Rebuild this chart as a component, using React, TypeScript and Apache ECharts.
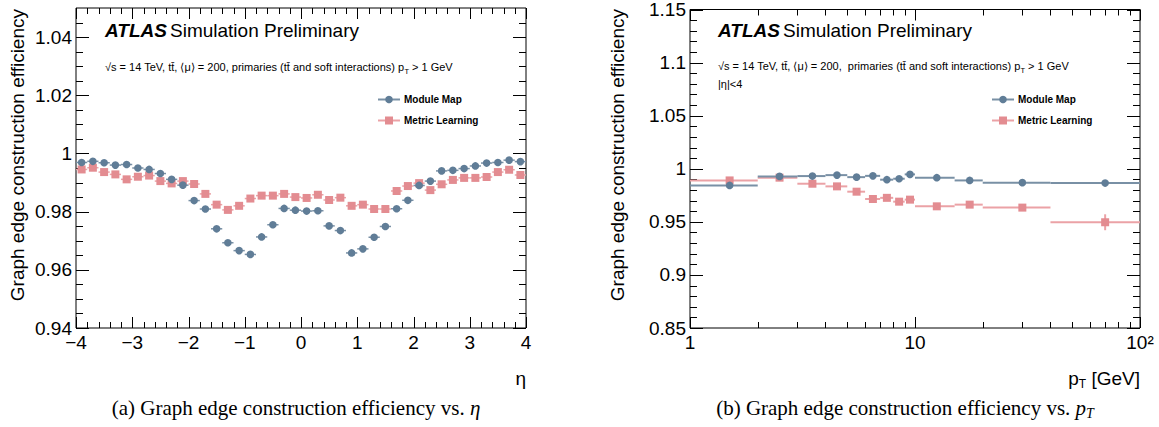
import React, { useEffect, useRef } from "react";
import * as echarts from "echarts";

// ---------- data: efficiency vs eta ----------
const etaCenters = [
  -3.9, -3.7, -3.5, -3.3, -3.1, -2.9, -2.7, -2.5, -2.3, -2.1,
  -1.9, -1.7, -1.5, -1.3, -1.1, -0.9, -0.7, -0.5, -0.3, -0.1,
  0.1, 0.3, 0.5, 0.7, 0.9, 1.1, 1.3, 1.5, 1.7, 1.9,
  2.1, 2.3, 2.5, 2.7, 2.9, 3.1, 3.3, 3.5, 3.7, 3.9,
];
const etaHalfWidth = [0.1];
const etaModuleMap = [
  0.9969, 0.9973, 0.9968, 0.996, 0.9962, 0.995, 0.9945, 0.9931, 0.9911, 0.9891,
  0.9838, 0.9809, 0.9741, 0.9693, 0.9666, 0.9653, 0.9713, 0.9755, 0.9811, 0.9805,
  0.9802, 0.9803, 0.9751, 0.9735, 0.9658, 0.9672, 0.9712, 0.9749, 0.981, 0.9839,
  0.989, 0.9905, 0.994, 0.9942, 0.9948, 0.9957, 0.9967, 0.9969, 0.9977, 0.9972,
];
const etaMetricLearning = [
  0.9945, 0.9951, 0.9936, 0.9928, 0.9911, 0.992, 0.9924, 0.9905, 0.9897, 0.9905,
  0.9895, 0.9861, 0.9824, 0.9806, 0.982, 0.9845, 0.9855, 0.9855, 0.9861, 0.985,
  0.9847, 0.9858, 0.984, 0.9848, 0.982, 0.9824, 0.9809, 0.9809, 0.9871, 0.9888,
  0.9898, 0.9874, 0.9894, 0.9909, 0.9916, 0.9916, 0.9919, 0.9936, 0.9944, 0.9926,
];
const etaModuleMapErr = [0.0004];
const etaMetricLearningErr = [0.0005];

// ---------- data: efficiency vs pT ----------
const ptLow = [1, 2, 3, 4, 5, 6, 7, 8, 9, 10, 15, 20, 40];
const ptHigh = [2, 3, 4, 5, 6, 7, 8, 9, 10, 15, 20, 40, 100];
const ptCenters = [1.5, 2.5, 3.5, 4.5, 5.5, 6.5, 7.5, 8.5, 9.5, 12.5, 17.5, 30, 70];
const ptModuleMap = [0.9843, 0.9928, 0.9931, 0.994, 0.9921, 0.9933, 0.9897, 0.9906, 0.9947, 0.9916, 0.989, 0.9869, 0.9865];
const ptMetricLearning = [0.989, 0.9916, 0.9859, 0.9834, 0.9784, 0.9715, 0.9726, 0.969, 0.9709, 0.9646, 0.9662, 0.9634, 0.9496];
const ptModuleMapErr = [0.0008, 0.0008, 0.0008, 0.0008, 0.0008, 0.0008, 0.0008, 0.0008, 0.0008, 0.0008, 0.0008, 0.001, 0.0015];
const ptMetricLearningErr = [0.001, 0.001, 0.001, 0.001, 0.001, 0.001, 0.001, 0.0012, 0.0012, 0.0015, 0.0025, 0.002, 0.0075];

// ---------- axis ticks ----------
const etaMajorTicks = [-4, -3, -2, -1, 0, 1, 2, 3, 4];
const effLeftMajorTicks = [0.94, 0.96, 0.98, 1.0, 1.02, 1.04];
const ptMajorTicks = [1, 10, 100];
const ptMinorTicks = [2, 3, 4, 5, 6, 7, 8, 9, 20, 30, 40, 50, 60, 70, 80, 90];
const effRightMajorTicks = [0.85, 0.9, 0.95, 1.0, 1.05, 1.1, 1.15];

const SANS = "'Liberation Sans', Arial, Helvetica, sans-serif";
const SERIF = "'Liberation Serif', 'DejaVu Serif', serif";
const BLUE = "#607d97";
const BLUE_BAR = "#7990a5";
const RED = "#e38c91";
const RED_BAR = "#eba2a6";
const LABEL_SIZE = 19;

function buildTicks(
  xMajor: number[], xMinor: number[], yMajor: number[], yMinor: number[], xMin: number, yMin: number
) {
  const d: number[][] = [];
  xMajor.forEach((v) => d.push([v, yMin, 0]));
  xMinor.forEach((v) => d.push([v, yMin, 1]));
  yMajor.forEach((v) => d.push([xMin, v, 2]));
  yMinor.forEach((v) => d.push([xMin, v, 3]));
  return d;
}

function tickRenderer(xLen: [number, number], yLen: [number, number]) {
  return (params: any, api: any) => {
    const cs = params.coordSys;
    const kind = api.value(2);
    const p = api.coord([api.value(0), api.value(1)]);
    const top = cs.y, bottom = cs.y + cs.height, left = cs.x, right = cs.x + cs.width;
    const style = { stroke: "#000", lineWidth: 1 };
    if (kind < 2) {
      const len = kind === 0 ? xLen[0] : xLen[1];
      const x = Math.round(p[0]) + 0.5;
      return {
        type: "group",
        children: [
          { type: "line", shape: { x1: x, y1: bottom, x2: x, y2: bottom - len }, style },
          { type: "line", shape: { x1: x, y1: top, x2: x, y2: top + len }, style },
        ],
      };
    }
    const len = kind === 2 ? yLen[0] : yLen[1];
    const y = Math.round(p[1]) + 0.5;
    return {
      type: "group",
      children: [
        { type: "line", shape: { x1: left, y1: y, x2: left + len, y2: y }, style },
        { type: "line", shape: { x1: right, y1: y, x2: right - len, y2: y }, style },
      ],
    };
  };
}

function pointRenderer(
  lo: (i: number) => number, hi: (i: number) => number, err: (i: number) => number,
  shape: "circle" | "square", color: string, barColor: string, barWidth: number
) {
  return (params: any, api: any) => {
    const i = params.dataIndex;
    const x = api.value(0);
    const y = api.value(1);
    const c = api.coord([x, y]);
    const pl = api.coord([lo(i), y]);
    const pr = api.coord([hi(i), y]);
    const pt = api.coord([x, y + err(i)]);
    const pb = api.coord([x, y - err(i)]);
    const marker =
      shape === "circle"
        ? { type: "circle", shape: { cx: c[0], cy: c[1], r: 3.8 }, style: { fill: color } }
        : { type: "rect", shape: { x: c[0] - 4, y: c[1] - 4, width: 8, height: 8 }, style: { fill: color } };
    return {
      type: "group",
      children: [
        { type: "line", shape: { x1: pl[0], y1: c[1], x2: pr[0], y2: c[1] }, style: { stroke: barColor, lineWidth: barWidth } },
        { type: "line", shape: { x1: c[0], y1: pt[1], x2: c[0], y2: pb[1] }, style: { stroke: barColor, lineWidth: barWidth } },
        marker,
      ],
    };
  };
}

export default function App() {
  const ref = useRef<HTMLDivElement>(null);

  useEffect(() => {
    if (!ref.current) return;
    const chart = echarts.init(ref.current, undefined, { renderer: "svg" });

    const etaMinor: number[] = [];
    for (let i = -20; i <= 20; i++) if (i % 5 !== 0) etaMinor.push(i / 5);
    const effLeftMinor: number[] = [];
    for (let i = 189; i < 210; i++) if (i % 4 !== 0) effLeftMinor.push(Math.round(i * 5) / 1000);
    const effRightMinor: number[] = [];
    for (let i = 86; i < 115; i++) if (i % 5 !== 0) effRightMinor.push(i / 100);

    const leftTicks = buildTicks(etaMajorTicks, etaMinor, effLeftMajorTicks, effLeftMinor, -4, 0.94);
    const rightTicks = buildTicks(ptMajorTicks, ptMinorTicks, effRightMajorTicks, effRightMinor, 1, 0.85);

    const axisLabelBase = { color: "#000", fontSize: LABEL_SIZE, fontFamily: SANS };

    const subText = (x: number, y: number, parts: string) => ({
      type: "text",
      x,
      y,
      style: {
        text: parts,
        fontFamily: SANS,
        fontSize: 11,
        fill: "#000",
        verticalAlign: "middle",
        rich: {
          n: { fontSize: 11, fontFamily: SANS, lineHeight: 16, fill: "#000" },
          s: { fontSize: 7.5, fontFamily: SANS, lineHeight: 7, verticalAlign: "bottom", fill: "#000" },
        },
      },
    });

    const legend = (x: number, y: number) => [
      { type: "line", shape: { x1: x, y1: y, x2: x + 22, y2: y }, style: { stroke: BLUE_BAR, lineWidth: 2 } },
      { type: "circle", shape: { cx: x + 11, cy: y, r: 3.8 }, style: { fill: BLUE } },
      { type: "text", x: x + 26, y, style: { text: "Module Map", fontFamily: SANS, fontWeight: "bold", fontSize: 10, fill: "#000", verticalAlign: "middle" } },
      { type: "line", shape: { x1: x, y1: y + 21, x2: x + 22, y2: y + 21 }, style: { stroke: RED_BAR, lineWidth: 2 } },
      { type: "rect", shape: { x: x + 7, y: y + 17, width: 8, height: 8 }, style: { fill: RED } },
      { type: "text", x: x + 26, y: y + 21, style: { text: "Metric Learning", fontFamily: SANS, fontWeight: "bold", fontSize: 10, fill: "#000", verticalAlign: "middle" } },
    ];

    const atlas = (x: number, y: number) => [
      { type: "text", x, y, style: { text: "ATLAS", fontFamily: SANS, fontSize: 19, fontWeight: "bold", fontStyle: "italic", fill: "#000", verticalAlign: "middle" } },
      { type: "text", x: x + 65, y, style: { text: "Simulation Preliminary", fontFamily: SANS, fontSize: 19, fill: "#000", verticalAlign: "middle" } },
    ];

    const yTitle = (x: number) => ({
      type: "text",
      x,
      y: 9,
      rotation: Math.PI / 2,
      style: { text: "Graph edge construction efficiency", fontFamily: SANS, fontSize: LABEL_SIZE, fill: "#000", align: "right", verticalAlign: "middle" },
    });

    const option: any = {
      animation: false,
      backgroundColor: "#fff",
      grid: [
        { left: 76, top: 8, width: 450, height: 320, show: true, borderColor: "#000", borderWidth: 1, backgroundColor: "transparent" },
        { left: 690, top: 8, width: 450, height: 320, show: true, borderColor: "#000", borderWidth: 1, backgroundColor: "transparent" },
      ],
      xAxis: [
        {
          gridIndex: 0, type: "value", min: -4, max: 4, interval: 1,
          axisLine: { show: false }, axisTick: { show: false }, splitLine: { show: false },
          axisLabel: { ...axisLabelBase, margin: 5, formatter: (v: number) => (v < 0 ? "\u2212" + Math.abs(v) : String(v)) },
        },
        {
          gridIndex: 1, type: "log", logBase: 10, min: 1, max: 100,
          axisLine: { show: false }, axisTick: { show: false }, splitLine: { show: false }, minorTick: { show: false },
          axisLabel: { ...axisLabelBase, margin: 5, formatter: (v: number) => (v >= 99 ? "10\u00b2" : String(Math.round(v))) },
        },
      ],
      yAxis: [
        {
          gridIndex: 0, type: "value", min: 0.94, max: 1.05, interval: 0.02,
          axisLine: { show: false }, axisTick: { show: false }, splitLine: { show: false },
          axisLabel: { ...axisLabelBase, margin: 4, showMaxLabel: false, formatter: (v: number) => String(parseFloat(v.toFixed(3))) },
        },
        {
          gridIndex: 1, type: "value", min: 0.85, max: 1.15, interval: 0.05,
          axisLine: { show: false }, axisTick: { show: false }, splitLine: { show: false },
          axisLabel: { ...axisLabelBase, margin: 4, formatter: (v: number) => String(parseFloat(v.toFixed(3))) },
        },
      ],
      series: [
        {
          type: "custom", name: "ticks-left", xAxisIndex: 0, yAxisIndex: 0, silent: true,
          data: leftTicks, encode: { x: 0, y: 1 },
          renderItem: tickRenderer([11, 6], [13, 7]),
        },
        {
          type: "custom", name: "ticks-right", xAxisIndex: 1, yAxisIndex: 1, silent: true,
          data: rightTicks, encode: { x: 0, y: 1 },
          renderItem: tickRenderer([11, 6], [13, 7]),
        },
        {
          type: "custom", name: "Metric Learning", xAxisIndex: 0, yAxisIndex: 0,
          data: etaCenters.map((x, i) => [x, etaMetricLearning[i]]), encode: { x: 0, y: 1 },
          renderItem: pointRenderer(
            (i) => etaCenters[i] - etaHalfWidth[0], (i) => etaCenters[i] + etaHalfWidth[0], () => etaMetricLearningErr[0],
            "square", RED, RED_BAR, 1.5
          ),
        },
        {
          type: "custom", name: "Module Map", xAxisIndex: 0, yAxisIndex: 0,
          data: etaCenters.map((x, i) => [x, etaModuleMap[i]]), encode: { x: 0, y: 1 },
          renderItem: pointRenderer(
            (i) => etaCenters[i] - etaHalfWidth[0], (i) => etaCenters[i] + etaHalfWidth[0], () => etaModuleMapErr[0],
            "circle", BLUE, BLUE_BAR, 1.5
          ),
        },
        {
          type: "custom", name: "Metric Learning pT", xAxisIndex: 1, yAxisIndex: 1,
          data: ptCenters.map((x, i) => [x, ptMetricLearning[i]]), encode: { x: 0, y: 1 },
          renderItem: pointRenderer((i) => ptLow[i], (i) => ptHigh[i], (i) => ptMetricLearningErr[i], "square", RED, RED_BAR, 2),
        },
        {
          type: "custom", name: "Module Map pT", xAxisIndex: 1, yAxisIndex: 1,
          data: ptCenters.map((x, i) => [x, ptModuleMap[i]]), encode: { x: 0, y: 1 },
          renderItem: pointRenderer((i) => ptLow[i], (i) => ptHigh[i], (i) => ptModuleMapErr[i], "circle", BLUE, BLUE_BAR, 2),
        },
      ],
      graphic: [
        yTitle(17),
        yTitle(617),
        ...atlas(105, 30),
        ...atlas(718, 30),
        subText(105, 67, "{n|\u221as = 14 TeV, tt\u0304, \u27e8\u03bc\u27e9 = 200, primaries (tt\u0304 and soft interactions) p}{s|T}{n| > 1 GeV}"),
        subText(718, 66, "{n|\u221as = 14 TeV, tt\u0304, \u27e8\u03bc\u27e9 = 200,  primaries (tt\u0304 and soft interactions) p}{s|T}{n| > 1 GeV}"),
        { type: "text", x: 718, y: 84, style: { text: "|\u03b7|<4", fontFamily: SANS, fontSize: 11, fill: "#000", verticalAlign: "middle" } },
        ...legend(378, 99.5),
        ...legend(992, 99.5),
        { type: "text", x: 526, y: 378, style: { text: "\u03b7", fontFamily: SANS, fontSize: LABEL_SIZE, fill: "#000", align: "right", verticalAlign: "middle" } },
        {
          type: "text", x: 1140, y: 378,
          style: {
            text: "{a|p}{b|T}{a| [GeV]}", align: "right", verticalAlign: "middle",
            rich: {
              a: { fontFamily: SANS, fontSize: LABEL_SIZE, lineHeight: 24, fill: "#000" },
              b: { fontFamily: SANS, fontSize: 12, lineHeight: 10, verticalAlign: "bottom", fill: "#000" },
            },
          },
        },
        {
          type: "text", x: 296, y: 408,
          style: {
            text: "{r|(a) Graph edge construction efficiency vs. }{i|\u03b7}", align: "center", verticalAlign: "middle",
            rich: {
              r: { fontFamily: SERIF, fontSize: 21, fill: "#000" },
              i: { fontFamily: SERIF, fontSize: 21, fontStyle: "italic", fill: "#000" },
            },
          },
        },
        {
          type: "text", x: 905, y: 408,
          style: {
            text: "{r|(b) Graph edge construction efficiency vs. }{i|p}{s|T}", align: "center", verticalAlign: "middle",
            rich: {
              r: { fontFamily: SERIF, fontSize: 21, lineHeight: 24, fill: "#000" },
              i: { fontFamily: SERIF, fontSize: 21, lineHeight: 24, fontStyle: "italic", fill: "#000" },
              s: { fontFamily: SERIF, fontSize: 14, lineHeight: 12, fontStyle: "italic", verticalAlign: "bottom", fill: "#000" },
            },
          },
        },
      ],
    };

    chart.setOption(option);
    return () => chart.dispose();
  }, []);

  return (
    <div
      ref={ref}
      style={{ position: "fixed", left: 0, top: 0, width: 1159, height: 427, background: "#fff" }}
    />
  );
}
